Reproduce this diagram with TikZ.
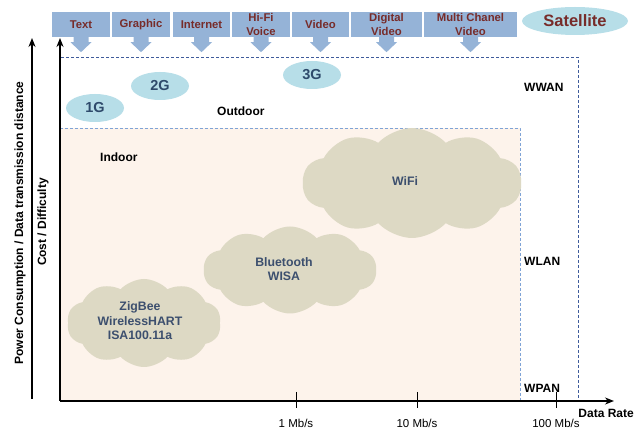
\documentclass[tikz,border=0pt]{standalone}
\usepackage{fontspec}
\setmainfont{Liberation Sans}
\usetikzlibrary{shapes.symbols,shapes.geometric,arrows.meta}
\definecolor{boxc}{HTML}{95B3D7}
\definecolor{maroonc}{HTML}{772C2A}
\definecolor{ellc}{HTML}{B7DEE8}
\definecolor{gtext}{HTML}{2E4A6B}
\definecolor{cloudc}{HTML}{DDD9C4}
\definecolor{ctext}{HTML}{3C4F6E}
\definecolor{indoorc}{HTML}{FDF3EB}
\definecolor{wwanc}{HTML}{3F5B9B}
\definecolor{wlanc}{HTML}{7FA3D6}
\begin{document}
\begin{tikzpicture}[x=1pt,y=-1pt,
  topbox/.style={fill=boxc, draw=none, minimum height=25pt, inner sep=0pt, align=center,
    text=maroonc, font=\fontsize{11.3}{13.5}\selectfont\bfseries},
  gen/.style={ellipse, fill=ellc, draw=none, minimum width=58pt, minimum height=28pt, inner sep=0pt,
    text=gtext, font=\fontsize{14.5}{15}\selectfont\bfseries},
  tech/.style={cloud, cloud puffs=10, cloud puff arc=95, fill=cloudc, draw=none, inner sep=0pt},
  techtext/.style={align=center, text=ctext, inner sep=0pt, font=\fontsize{12.3}{14.5}\selectfont\bfseries},
  zone/.style={font=\fontsize{12}{13}\selectfont\bfseries, text=black, inner sep=0pt},
  ticklab/.style={font=\fontsize{11.5}{12}\selectfont, inner sep=0pt},
  axisarrow/.style={line width=1.6pt, -{Stealth[length=9pt,width=7pt]}},
  downarrow/.style={fill=boxc, draw=none}
]
\useasboundingbox (0,0) rectangle (635,430);

% zones
\fill[white] (60,57) rectangle (578,401);
\draw[wwanc, densely dashed, line width=0.7pt] (60,401) -- (60,57) -- (578,57) -- (578,401);
\fill[indoorc] (60,128) rectangle (520,401);
\draw[wlanc, densely dashed, line width=0.6pt] (60,128) -- (520,128) -- (520,401);

% top boxes
\node[topbox, minimum width=58pt] (b1) at (81,24.5) {Text};
\node[topbox, minimum width=58pt] (b2) at (141,24.5) {Graphic};
\node[topbox, minimum width=57pt] (b3) at (201.5,24.5) {Internet};
\node[topbox, minimum width=58pt] (b4) at (261,24.5) {Hi-Fi\\Voice};
\node[topbox, minimum width=57pt] (b5) at (320.5,24.5) {Video};
\node[topbox, minimum width=71pt] (b6) at (386.5,24.5) {Digital\\Video};
\node[topbox, minimum width=93pt] (b7) at (470.5,24.5) {Multi Chanel\\Video};
\foreach \b in {b1,b2,b3,b4,b5,b6,b7}{
  \fill[downarrow] (\b.south) ++(-7.5,0) -- ++(0,5) -- ++(-3,0) -- ++(10.5,10) -- ++(10.5,-10) -- ++(-3,0) -- ++(0,-5) -- cycle;
}

% satellite and generations
\node[gen, minimum width=106pt, text=maroonc, font=\fontsize{16.5}{17}\selectfont\bfseries] (sat) at (575,21) {Satellite};
\node[gen] (g1) at (95,108) {1G};
\node[gen] (g2) at (160,86) {2G};
\node[gen] (g3) at (312,75) {3G};

% zone labels
\node[zone, anchor=west] (outdoor) at (217,111) {Outdoor};
\node[zone, anchor=west] (indoor) at (100,157) {Indoor};
\node[zone, anchor=west] (wwan) at (524,87) {WWAN};
\node[zone, anchor=west] (wlan) at (524,261) {WLAN};
\node[zone, anchor=west] (wpan) at (524,388) {WPAN};

% clouds
\node[tech, minimum width=219pt, minimum height=110pt] (wifi) at (412,183) {};
\node[techtext] (wifit) at (405,181) {WiFi};
\node[tech, minimum width=173pt, minimum height=87pt] (bt) at (290,270) {};
\node[techtext] (btt) at (284,269) {Bluetooth\\WISA};
\node[tech, minimum width=154pt, minimum height=88pt] (zig) at (144,323) {};
\node[techtext] (zigt) at (140,321) {ZigBee\\WirelessHART\\ISA100.11a};

% axes
\coordinate (o) at (60,401);
\coordinate (xend) at (614,401);
\coordinate (yend) at (60,38);
\coordinate (o2) at (32,399);
\coordinate (y2end) at (32,38);
\draw[axisarrow] (o) -- (xend);
\draw[axisarrow] (o) -- (yend);
\draw[axisarrow] (o2) -- (y2end);

% ticks
\foreach \x/\n/\l in {296/t1/{1 Mb/s}, 417/t2/{10 Mb/s}, 556/t3/{100 Mb/s}}{
  \coordinate (\n a) at (\x,392);
  \coordinate (\n b) at (\x,408);
  \draw[line width=0.6pt] (\n a) -- (\n b);
  \node[ticklab] (\n lab) at (\x,423) {\l};
}
\node[zone, anchor=east] (drate) at (634,413) {Data Rate};

% axis labels
\node[zone, rotate=90] (ylab1) at (20,223) {Power Consumption / Data transmission distance};
\node[zone, rotate=90] (ylab2) at (43,222) {Cost / Difficulty};
\end{tikzpicture}
\end{document}
